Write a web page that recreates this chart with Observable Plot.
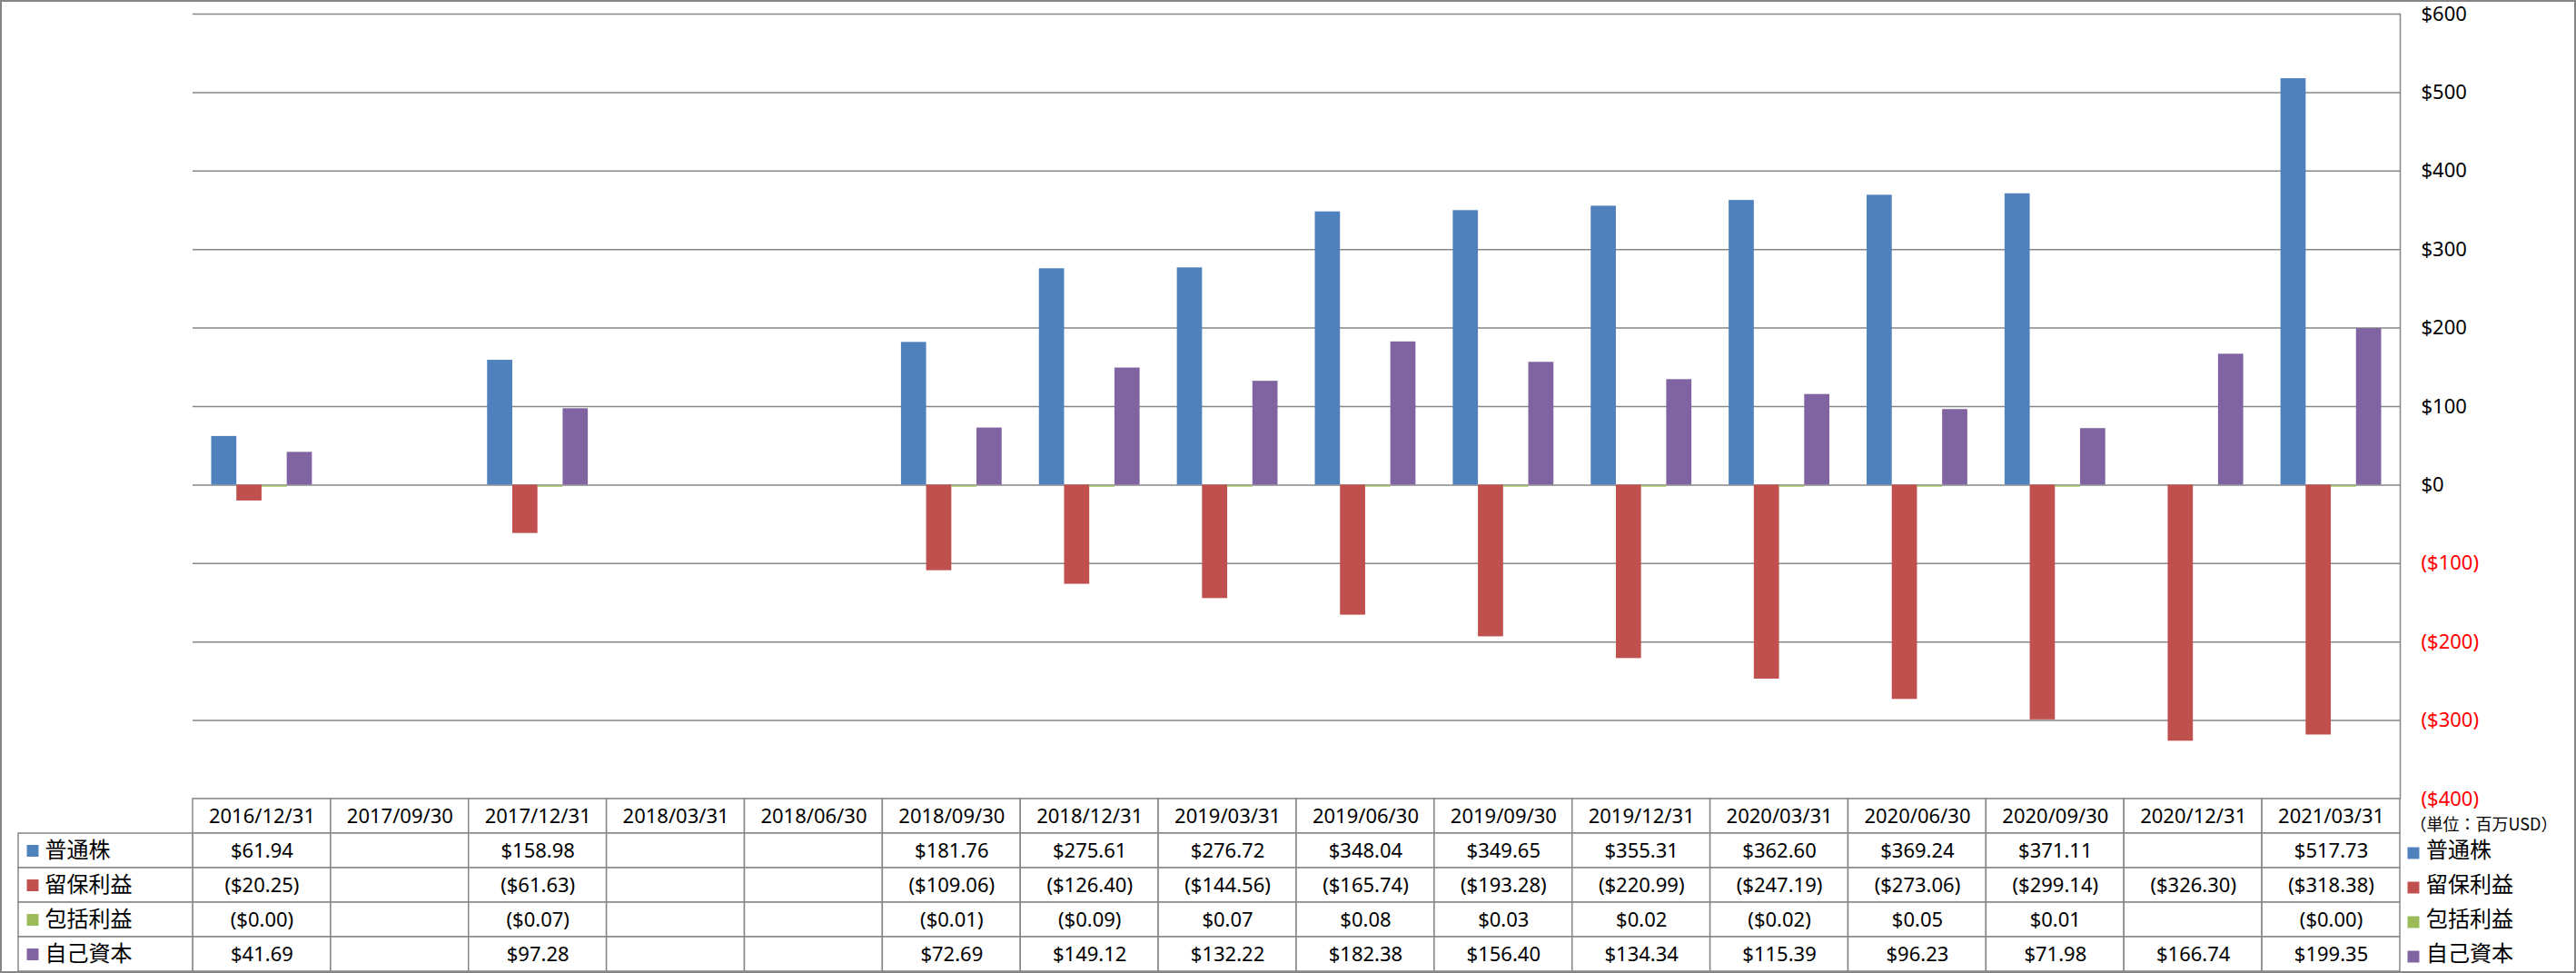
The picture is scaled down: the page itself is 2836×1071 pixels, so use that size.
<!DOCTYPE html>
<html>
<head>
<meta charset="utf-8">
<script src="https://cdn.jsdelivr.net/npm/d3@7"></script>
<script src="https://cdn.jsdelivr.net/npm/@observablehq/plot@0.6"></script>
<style>
  body { margin: 0; background: #fff; }
  #wrap { position: relative; width: 2836px; height: 1071px; overflow: hidden; background: #fff; }
  #wrap > .layer { position: absolute; }
  #border { position: absolute; left: 0; top: 0; width: 2836px; height: 1071px; box-sizing: border-box; border: 2px solid #868686; pointer-events: none; }
</style>
</head>
<body>
<div id="wrap">
  <div class="layer" id="chart" style="left:0;top:0"></div>
  <div class="layer" id="table" style="left:0;top:879px"></div>
  <div class="layer" id="labels" style="left:20px;top:879px"></div>
  <div class="layer" id="legend" style="left:2642px;top:879px"></div>
  <div id="border"></div>
</div>
<script>
// ---------- data ----------
const dates = ["2016/12/31","2017/09/30","2017/12/31","2018/03/31","2018/06/30","2018/09/30","2018/12/31","2019/03/31","2019/06/30","2019/09/30","2019/12/31","2020/03/31","2020/06/30","2020/09/30","2020/12/31","2021/03/31"];
const seriesNames = ["普通株","留保利益","包括利益","自己資本"];
const commonStock = [61.94, null, 158.98, null, null, 181.76, 275.61, 276.72, 348.04, 349.65, 355.31, 362.60, 369.24, 371.11, null, 517.73];
const retainedEarnings = [-20.25, null, -61.63, null, null, -109.06, -126.40, -144.56, -165.74, -193.28, -220.99, -247.19, -273.06, -299.14, -326.30, -318.38];
const comprehensiveIncome = [-0.001, null, -0.07, null, null, -0.01, -0.09, 0.07, 0.08, 0.03, 0.02, -0.02, 0.05, 0.01, null, -0.001];
const equity = [41.69, null, 97.28, null, null, 72.69, 149.12, 132.22, 182.38, 156.40, 134.34, 115.39, 96.23, 71.98, 166.74, 199.35];
const yTicks = [600, 500, 400, 300, 200, 100, 0, -100, -200, -300, -400];
const unitLabel = "（単位：百万USD）";
const colors = ["#4F81BD", "#C0504D", "#9BBB59", "#8064A2"];

// ---------- layout ----------
const W = 2836, L = 212, R = 194;
const GRID = "#868686";
const FONT = "'Noto Sans', 'Noto Sans CJK JP', sans-serif";
const CJK = "'Noto Sans CJK JP', 'Noto Sans', sans-serif";
const padInner = 0.27, padOuter = padInner / 2;
const step = (W - L - R) / dates.length;
const sub = step * (1 - padInner) / 4;

const values = [commonStock, retainedEarnings, comprehensiveIncome, equity];
const records = seriesNames.map((s, k) =>
  dates.map((d, i) => ({date: d, series: s, value: values[k][i]})).filter(r => r.value != null));

const fmtVal = v => v == null ? "" : (v < 0 ? `($${Math.abs(v).toFixed(2)})` : `$${v.toFixed(2)}`);
const fmtAxis = v => v < 0 ? `($${Math.abs(v)})` : `$${v}`;

// ---------- chart ----------
const barMarks = [0, 1, 3].map(k => Plot.barY(records[k], {
  x: "date", y1: 0, y2: "value", fill: colors[k],
  insetLeft: k * sub, insetRight: (3 - k) * sub
}));

const chart = Plot.plot({
  width: W, height: 881,
  marginTop: 15, marginBottom: 2, marginLeft: L, marginRight: R,
  x: {type: "band", domain: dates, paddingInner: padInner, paddingOuter: padOuter, align: 0.5, round: false, axis: null},
  y: {domain: [-400, 600], axis: null},
  style: {background: "transparent", overflow: "visible", fontFamily: FONT},
  marks: [
    Plot.ruleY(yTicks, {stroke: GRID, strokeWidth: 1.5}),
    Plot.frame({anchor: "right", stroke: GRID, strokeWidth: 1.5}),
    ...barMarks,
    Plot.tickY(records[2], {x: "date", y: "value", stroke: colors[2], strokeWidth: 1.5, dy: 1,
      insetLeft: 2 * sub, insetRight: 1 * sub}),
    Plot.text(yTicks.filter(v => v >= 0), {y: d => d, text: fmtAxis, frameAnchor: "right", textAnchor: "start", dx: 23, fontSize: 22, fill: "#000"}),
    Plot.text(yTicks.filter(v => v < 0), {y: d => d, text: fmtAxis, frameAnchor: "right", textAnchor: "start", dx: 23, fontSize: 22, fill: "#FF0000"})
  ]
});
document.getElementById("chart").append(chart);

// ---------- data table ----------
const rows = ["header", ...seriesNames];
const cells = rows.flatMap((r, ri) => dates.map((d, i) => ({
  date: d, row: r, label: ri === 0 ? d : fmtVal(values[ri - 1][i])
})));

const table = Plot.plot({
  width: W, height: 192,
  marginTop: 0, marginBottom: 2, marginLeft: L, marginRight: R,
  x: {type: "band", domain: dates, padding: 0, round: false, axis: null},
  y: {type: "band", domain: rows, padding: 0, round: false, axis: null},
  style: {background: "transparent", overflow: "visible", fontFamily: FONT},
  marks: [
    Plot.cell(cells, {x: "date", y: "row", fill: "white", stroke: GRID, strokeWidth: 1.5, inset: 0}),
    Plot.text(cells, {x: "date", y: "row", text: "label", fontSize: 22, fill: "#000"})
  ]
});
document.getElementById("table").append(table);

// ---------- left series labels ----------
const labels = Plot.plot({
  width: L - 20, height: 192,
  marginTop: 0, marginBottom: 2, marginLeft: 0, marginRight: 0,
  x: {type: "band", domain: ["label"], padding: 0, round: false, axis: null},
  y: {type: "band", domain: rows, padding: 0, round: false, axis: null},
  color: {type: "identity"},
  style: {background: "transparent", overflow: "visible", fontFamily: CJK},
  marks: [
    Plot.cell(seriesNames, {x: () => "label", y: d => d, fill: "white", stroke: GRID, strokeWidth: 1.5, inset: 0}),
    Plot.dot(seriesNames, {y: d => d, fill: (d, i) => colors[i], symbol: "square", r: 7.3, frameAnchor: "left", dx: 15.5}),
    Plot.text(seriesNames, {y: d => d, text: d => d, frameAnchor: "left", textAnchor: "start", dx: 29, fontSize: 24, fill: "#000"})
  ]
});
document.getElementById("labels").append(labels);

// ---------- right legend ----------
const legend = Plot.plot({
  width: R, height: 192,
  marginTop: 0, marginBottom: 2, marginLeft: 0, marginRight: 0,
  y: {type: "band", domain: rows, padding: 0, round: false, axis: null},
  color: {type: "identity"},
  style: {background: "transparent", overflow: "visible", fontFamily: CJK},
  marks: [
    Plot.text([unitLabel], {y: () => "header", text: d => d, frameAnchor: "left", textAnchor: "start", dx: 11, dy: 9.5, fontSize: 18, fill: "#000"}),
    Plot.dot(seriesNames, {y: d => d, fill: (d, i) => colors[i], symbol: "square", r: 7.3, frameAnchor: "left", dx: 14.5, dy: 2.5}),
    Plot.text(seriesNames, {y: d => d, text: d => d, frameAnchor: "left", textAnchor: "start", dx: 28.5, fontSize: 24, fill: "#000"})
  ]
});
document.getElementById("legend").append(legend);
</script>
</body>
</html>
